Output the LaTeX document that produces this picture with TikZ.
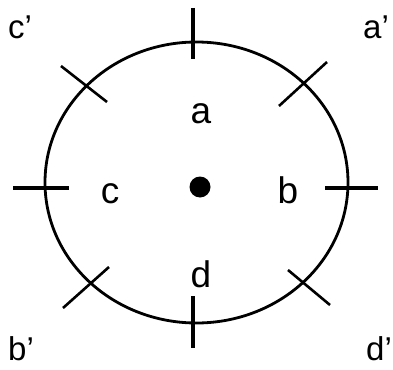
\documentclass[tikz,border=0pt]{standalone}
\usepackage{fontspec}
\setmainfont{Liberation Sans}
\usepackage{tikz}
\usetikzlibrary{positioning}

\tikzset{
  letter/.style={inner sep=0pt, anchor=base, font=\fontsize{37}{40}\selectfont},
  primed/.style={inner sep=0pt, anchor=base west, font=\fontsize{33}{36}\selectfont},
  axistick/.style={line width=4.5pt},
  diagtick/.style={line width=2.6pt}
}

\begin{document}
\begin{tikzpicture}[x=1pt,y=-1pt]
\useasboundingbox (0,0) rectangle (393,369);

% Outer ring
\draw[line width=2.8pt] (196.5,182.5) ellipse (151.5 and 140.5);

% Straight ticks through top, bottom, left and right
\foreach \xa/\ya/\xb/\yb in {193/8/193/59, 193/296/193/348, 13/188/69/188, 325/188/378/188} {
  \draw[axistick] (\xa,\ya) -- (\xb,\yb);
}

% Slanted ticks on the diagonals
\foreach \xa/\ya/\xb/\yb in {61/66/107/102, 327/62/279/106, 109/267/63/308, 288/270/330/305} {
  \draw[diagtick] (\xa,\ya) -- (\xb,\yb);
}

% Centre point
\fill (200,187) circle (10.5);
\coordinate (centre) at (200,187);

% Inner letters
\node[letter] (a) at (201,123) {a};
\node[letter] (c) at (110,203) {c};
\node[letter] (b) at (288,203) {b};
\node[letter] (d) at (201,287) {d};

% Corner letters
\node[primed] (cp) at (8,38) {c’};
\node[primed] (ap) at (363,38) {a’};
\node[primed] (bp) at (8,360) {b’};
\node[primed] (dp) at (366,360) {d’};

\end{tikzpicture}
\end{document}
